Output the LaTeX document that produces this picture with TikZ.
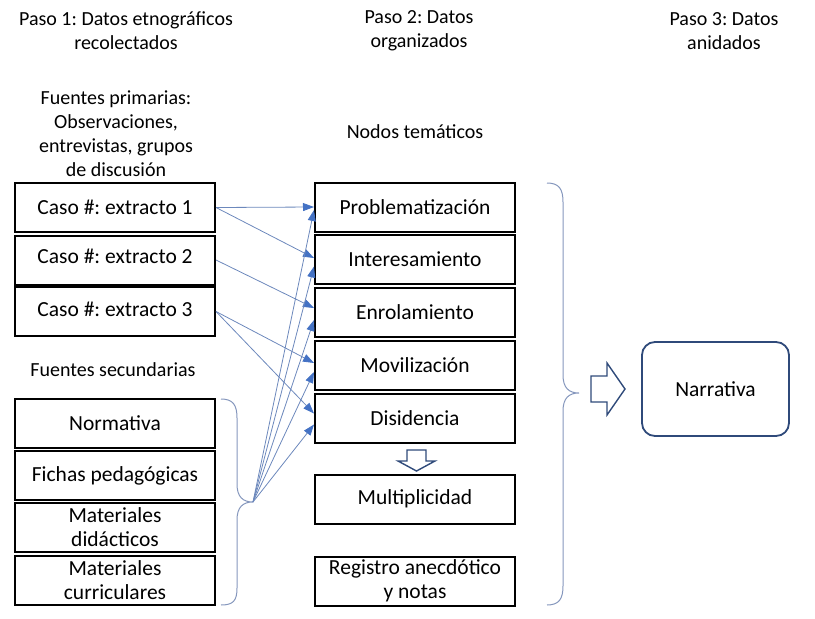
\documentclass[tikz,border=0pt]{standalone}
\usepackage{fontspec}
\setmainfont{Carlito}
\usetikzlibrary{arrows.meta}
\frenchspacing

\definecolor{linkblue}{HTML}{6C88BC}
\definecolor{headblue}{HTML}{4472C4}
\definecolor{bracegray}{HTML}{8597BD}
\definecolor{darkblue}{HTML}{2F4A7A}

\tikzset{
  box/.style={draw=black, line width=2pt, minimum width=200pt, minimum height=49pt,
    inner sep=0pt, align=center, font=\fontsize{21.5}{24}\selectfont},
  txt/.style={align=center, font=\fontsize{20}{24}\selectfont},
  link/.style={draw=linkblue, line width=0.8pt, -{Triangle[length=11pt,width=8pt,color=headblue]}},
  brace/.style={draw=bracegray, line width=1pt},
  bigarrow/.style={draw=darkblue, line width=1.4pt, fill=white, line join=miter},
}

\begin{document}
\begin{tikzpicture}[x=1pt, y=-1pt]
  \useasboundingbox (0,0) rectangle (815,619);

  % Headings
  \node[txt] (paso1) at (126,31) {Paso 1: Datos etnográficos\\recolectados};
  \node[txt] (paso2) at (419,31) {Paso 2: Datos\\organizados};
  \node[txt] (paso3) at (724,31) {Paso 3: Datos\\anidados};

  \node[txt] (primarias) at (116,133.5) {Fuentes primarias:\\Observaciones,\\entrevistas, grupos\\de discusión};
  \node[txt] (nodos) at (415,132) {Nodos temáticos};
  \node[txt] (secundarias) at (113,370) {Fuentes secundarias};

  % Left column
  \node[box] (caso1) at (115,207.5) {Caso \#: extracto 1};
  \node[box, text depth=7pt] (caso2) at (115,260) {Caso \#: extracto 2};
  \node[box, text depth=5pt] (caso3) at (115,311.5) {Caso \#: extracto 3};

  \node[box] (normativa) at (115,423) {Normativa};
  \node[box] (fichas) at (115,475.5) {Fichas pedagógicas};
  \node[box] (matdid) at (115,527.5) {Materiales\\didácticos};
  \node[box] (matcur) at (115,580.5) {Materiales\\curriculares};

  % Middle column
  \node[box] (probl) at (415,207) {Problematización};
  \node[box] (inter) at (415,259.5) {Interesamiento};
  \node[box] (enrol) at (415,312) {Enrolamiento};
  \node[box] (movil) at (415,365) {Movilización};
  \node[box] (disid) at (415,418.5) {Disidencia};
  \node[box] (multi) at (415,499) {Multiplicidad};
  \node[box] (regis) at (415,581) {Registro anecdótico\\y notas};

  % Right column
  \node[box, draw=darkblue, line width=1.8pt, rounded corners=13pt,
    minimum width=147pt, minimum height=94pt] (narrativa) at (715.5,389) {Narrativa};

  % Braces
  \draw[brace] (221,399) .. controls (233,399) and (237,405) .. (237,418)
    -- (237,484) .. controls (237,497) and (243,502) .. (253,502)
    .. controls (243,502) and (237,507) .. (237,520)
    -- (237,588) .. controls (237,601) and (233,605) .. (221,605);
  \coordinate (sectip) at (253,502);

  \draw[brace] (547,183) .. controls (559,183) and (563,189) .. (563,202)
    -- (563,375) .. controls (563,388) and (569,393) .. (579,393)
    .. controls (569,393) and (563,398) .. (563,411)
    -- (563,586) .. controls (563,599) and (559,605) .. (547,605);

  % Block arrows
  \draw[bigarrow] (591,376) -- (607,376) -- (607,363) -- (625,389) -- (607,415)
    -- (607,402) -- (591,402) -- cycle;
  \draw[bigarrow] (407,450) -- (426,450) -- (426,461) -- (435,461) -- (416.5,471)
    -- (398,461) -- (407,461) -- cycle;

  % Primary sources to nodes
  \draw[link] (caso1.east) -- (probl.west);
  \draw[link] (caso1.east) -- ([yshift=1.5pt]inter.west);
  \draw[link] ([yshift=0pt]caso2.east) -- ([yshift=4pt]enrol.west);
  \draw[link] (caso3.east) -- ([yshift=2pt]movil.west);
  \draw[link] (caso3.east) -- ([yshift=5pt]disid.west);

  % Secondary sources to nodes
  \draw[link] (sectip) -- ([yshift=-3pt]probl.west);
  \draw[link] (sectip) -- ([yshift=-7pt]inter.west);
  \draw[link] (sectip) -- ([yshift=-8pt]enrol.west);
  \draw[link] (sectip) -- ([yshift=-7pt]movil.west);
  \draw[link] (sectip) -- ([yshift=-6pt]disid.west);
\end{tikzpicture}
\end{document}
